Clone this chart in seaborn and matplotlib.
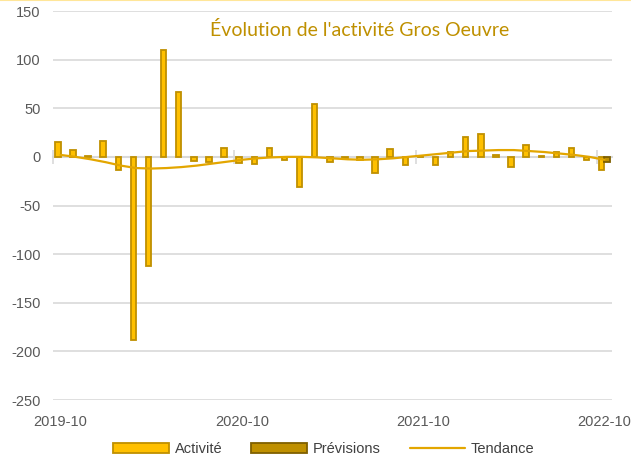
import numpy as np
import pandas as pd
import matplotlib
matplotlib.use("Agg")
import matplotlib.pyplot as plt
from matplotlib.patches import Patch
from matplotlib.lines import Line2D
import seaborn as sns

# Monthly series, 2019-10 .. 2022-10
months = pd.period_range("2019-10", "2022-10", freq="M").strftime("%Y-%m").tolist()
activite = [15, 7, 1, 16, -14, -188, -112, 110, 67, -4, -5, 9,
            -6, -7, 9, -3, -31, 54, -5, -1, -3, -17, 8, -8,
            1, -8, 5, 20, 24, 1.5, -10, 12, 1, 5.5, 9, -3,
            -13]
previsions = {"2022-10": -5}
tendance = [2, 0, -2.5, -5.5, -9, -11.5, -12, -11.5, -10.5, -9, -7, -5,
            -3, -1.5, -0.5, 0, 0, -0.5, -1.5, -2.5, -3, -2.5, -1.5, 0,
            1.5, 3, 4.5, 6, 6.5, 7, 7, 6, 5, 3.5, 2, 0,
            -3]
tick_labels = ["2019-10", "2020-10", "2021-10", "2022-10"]

c_act, c_act_edge = "#FFC000", "#BF9000"
c_prev, c_prev_edge = "#BF9000", "#7F6000"
c_trend = "#E3A600"
grid_c = "#D9D9D9"
txt_c = "#595959"

rows = [{"mois": m, "serie": "Activité", "valeur": v} for m, v in zip(months, activite)]
rows += [{"mois": m, "serie": "Prévisions", "valeur": v} for m, v in previsions.items()]
df = pd.DataFrame(rows)

sns.set_theme(style="white")
plt.rcParams["font.family"] = ["Liberation Sans", "DejaVu Sans"]
plt.rcParams["axes.unicode_minus"] = False

fig = plt.figure(figsize=(6.31, 4.61), dpi=100)
W, H = 631, 461
ax = fig.add_axes([53 / W, 1 - 400 / H, (612 - 53) / W, (400 - 11) / H])

sns.barplot(data=df, x="mois", y="valeur", hue="serie", order=months,
            hue_order=["Activité", "Prévisions"],
            palette={"Activité": c_act, "Prévisions": c_prev}, saturation=1,
            width=0.72, dodge=True, ax=ax, legend=False, zorder=3)
for patch in ax.patches:
    fc = matplotlib.colors.to_hex(patch.get_facecolor())
    patch.set_edgecolor(c_prev_edge if fc.lower() == c_prev.lower() else c_act_edge)
    patch.set_linewidth(1.3)

sns.lineplot(x=np.arange(len(months)), y=tendance, color=c_trend, lw=1.6,
             ax=ax, zorder=4)

ax.set_xlim(-0.5, len(months) - 0.5)
ax.set_ylim(-250, 150)
ax.set_yticks(np.arange(-250, 151, 50))
ax.yaxis.grid(True, color=grid_c, lw=1.2, zorder=0)
ax.set_axisbelow(True)
ax.tick_params(axis="y", length=0, labelsize=10.5, labelcolor=txt_c, pad=9)
for s in ["top", "right", "left"]:
    ax.spines[s].set_visible(False)

# Category axis crossing at zero, with year tick marks between slots
ax.spines["bottom"].set_position(("data", 0))
ax.spines["bottom"].set_color(grid_c)
ax.spines["bottom"].set_linewidth(1.5)
ax.spines["bottom"].set_zorder(2)
ax.set_xticks([])
ax.set_xticks([i - 0.5 for i in range(0, len(months), 12)], minor=True)
ax.tick_params(axis="x", which="minor", direction="inout", length=10,
               width=1.2, color=grid_c, bottom=True)
ax.set_xlabel("")
ax.set_ylabel("")

sec = ax.secondary_xaxis(0.0)
sec.set_xticks(list(range(0, len(months), 12)))
sec.set_xticklabels(tick_labels)
sec.tick_params(length=0, labelsize=10.5, labelcolor=txt_c, pad=11)
sec.spines["bottom"].set_visible(False)

fig.text(360 / W, 1 - 30 / H, "Évolution de l'activité Gros Oeuvre",
         ha="center", va="center", fontsize=14, color="#BF9000",
         family=["Lato", "DejaVu Sans"])

handles = [Patch(facecolor=c_act, edgecolor=c_act_edge, lw=1.3),
           Patch(facecolor=c_prev, edgecolor=c_prev_edge, lw=1.3),
           Line2D([], [], color=c_trend, lw=1.6)]
fig.legend(handles, ["Activité", "Prévisions", "Tendance"], loc="center",
           bbox_to_anchor=(324 / W, 1 - 449 / H), ncol=3, frameon=False,
           fontsize=10.5, handlelength=3.8, handleheight=0.7,
           handletextpad=0.4, columnspacing=2.0, labelcolor="#404040")

fig.add_artist(Line2D([0, 1], [1 - 0.5 / H, 1 - 0.5 / H], transform=fig.transFigure,
                      color="#FFE699", lw=1.5))

fig.savefig("out.png", dpi=100, facecolor="white")
